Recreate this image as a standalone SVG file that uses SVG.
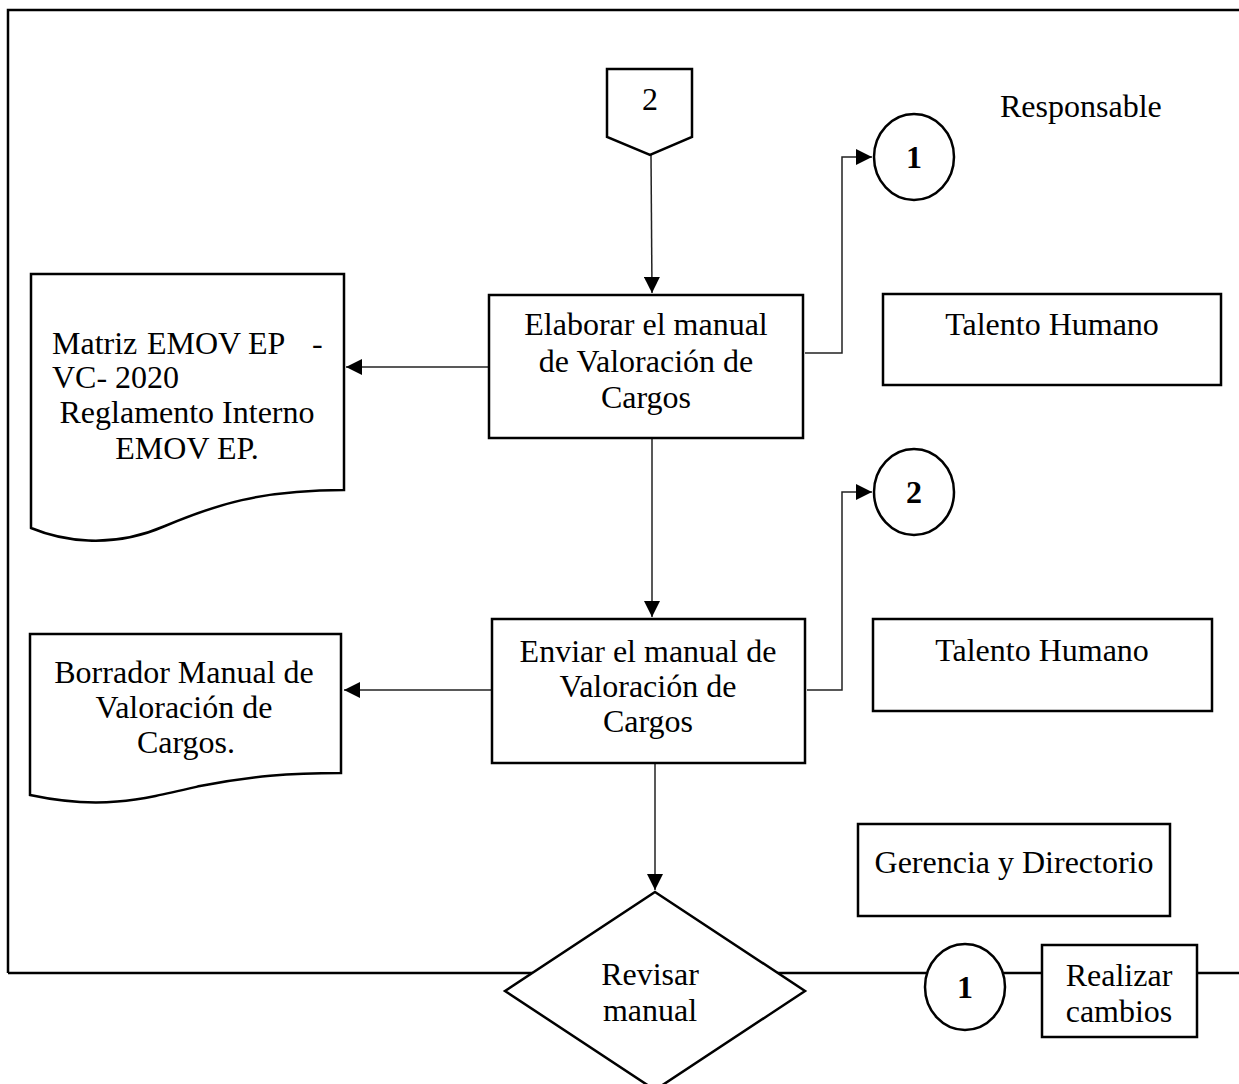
<svg xmlns="http://www.w3.org/2000/svg" width="1239" height="1084" viewBox="0 0 1239 1084">
  <style>
    .shape { fill: #fff; stroke: #000; stroke-width: 2.5; }
    .frame { fill: none; stroke: #000; stroke-width: 2.5; }
    .conn { fill: none; stroke: #222; stroke-width: 1.5; }
    .lbl { font-family: "Liberation Serif", "Times New Roman", serif; font-size: 32px; fill: #000; }
    .mid { text-anchor: middle; }
    .bold { font-weight: bold; }
  </style>
  <defs>
    <marker id="arrow" markerUnits="userSpaceOnUse" markerWidth="16" markerHeight="16" viewBox="0 0 16 16" refX="16" refY="8" orient="auto">
      <path d="M0,0 L16,8 L0,16 Z" fill="#000"/>
    </marker>
  </defs>
  <rect width="1239" height="1084" fill="#fff"/>

  <!-- page frame and the bottom flow line -->
  <g id="frame">
    <path class="frame" d="M8,973 V10 H1239"/>
    <line class="frame" x1="8" y1="973" x2="1239" y2="973"/>
  </g>

  <!-- connectors -->
  <g id="connectors">
    <line class="conn" x1="651" y1="155" x2="652" y2="293" marker-end="url(#arrow)"/>
    <line class="conn" x1="489" y1="367" x2="346" y2="367" marker-end="url(#arrow)"/>
    <polyline class="conn" points="805,353 842,353 842,157 872,157" marker-end="url(#arrow)"/>
    <line class="conn" x1="652" y1="438" x2="652" y2="617" marker-end="url(#arrow)"/>
    <line class="conn" x1="492" y1="690" x2="344" y2="690" marker-end="url(#arrow)"/>
    <polyline class="conn" points="807,690 842,690 842,492 872,492" marker-end="url(#arrow)"/>
    <line class="conn" x1="655" y1="763" x2="655" y2="890" marker-end="url(#arrow)"/>
  </g>

  <!-- off-page connector 2 -->
  <g id="offpage-2">
    <path class="shape" d="M607,69 H692 V137 L650,155 L607,137 Z"/>
    <text class="lbl mid" x="650" y="110">2</text>
  </g>

  <g id="responsable">
    <text class="lbl" x="1000" y="117">Responsable</text>
  </g>

  <!-- process: Elaborar -->
  <g id="elaborar">
    <rect class="shape" x="489" y="295" width="314" height="143"/>
    <text class="lbl mid" x="646" y="335">Elaborar el manual</text>
    <text class="lbl mid" x="646" y="372">de Valoración de</text>
    <text class="lbl mid" x="646" y="408">Cargos</text>
  </g>

  <!-- document: Matriz -->
  <g id="doc-matriz">
    <path class="shape" d="M31,274 H344 V490 C 260,490 215,505 165,526 C 110,550 60,540 31,528 Z"/>
    <text class="lbl" y="354"><tspan x="52">Matriz</tspan><tspan x="147">EMOV</tspan><tspan x="248">EP</tspan><tspan x="312">-</tspan></text>
    <text class="lbl" x="52" y="388">VC- 2020</text>
    <text class="lbl mid" x="187" y="423">Reglamento Interno</text>
    <text class="lbl mid" x="187" y="459">EMOV EP.</text>
  </g>

  <!-- connector circle 1 (top) -->
  <g id="circle-1-top">
    <ellipse class="shape" cx="914" cy="157" rx="40" ry="43"/>
    <text class="lbl mid bold" x="914" y="168">1</text>
  </g>

  <g id="talento-1">
    <rect class="shape" x="883" y="294" width="338" height="91"/>
    <text class="lbl mid" x="1052" y="335">Talento Humano</text>
  </g>

  <!-- connector circle 2 -->
  <g id="circle-2">
    <ellipse class="shape" cx="914" cy="492" rx="40" ry="43"/>
    <text class="lbl mid bold" x="914" y="503">2</text>
  </g>

  <!-- process: Enviar -->
  <g id="enviar">
    <rect class="shape" x="492" y="619" width="313" height="144"/>
    <text class="lbl mid" x="648" y="662">Enviar el manual de</text>
    <text class="lbl mid" x="648" y="697">Valoración de</text>
    <text class="lbl mid" x="648" y="732">Cargos</text>
  </g>

  <!-- document: Borrador -->
  <g id="doc-borrador">
    <path class="shape" d="M30,634 H341 V773 C 290,773 250,776 200,786 C 140,800 100,810 30,795 Z"/>
    <text class="lbl mid" x="184" y="683">Borrador Manual de</text>
    <text class="lbl mid" x="184" y="718">Valoración de</text>
    <text class="lbl mid" x="186" y="753">Cargos.</text>
  </g>

  <g id="talento-2">
    <rect class="shape" x="873" y="619" width="339" height="92"/>
    <text class="lbl mid" x="1042" y="661">Talento Humano</text>
  </g>

  <g id="gerencia">
    <rect class="shape" x="858" y="824" width="312" height="92"/>
    <text class="lbl mid" x="1014" y="873">Gerencia y Directorio</text>
  </g>

  <!-- decision: Revisar manual -->
  <g id="revisar">
    <path class="shape" d="M655,892 L805,991 L655,1090 L505,991 Z"/>
    <text class="lbl mid" x="650" y="985">Revisar</text>
    <text class="lbl mid" x="650" y="1021">manual</text>
  </g>

  <!-- connector circle 1 (bottom) -->
  <g id="circle-1-bottom">
    <ellipse class="shape" cx="965" cy="987" rx="40" ry="43"/>
    <text class="lbl mid bold" x="965" y="998">1</text>
  </g>

  <g id="realizar">
    <rect class="shape" x="1042" y="945" width="155" height="92"/>
    <text class="lbl mid" x="1119" y="986">Realizar</text>
    <text class="lbl mid" x="1119" y="1022">cambios</text>
  </g>
</svg>
